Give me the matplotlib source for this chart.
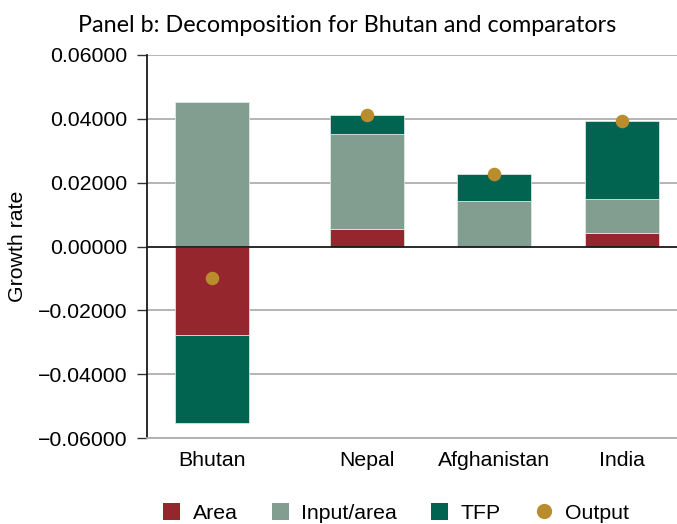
import matplotlib
matplotlib.use("Agg")
import matplotlib.pyplot as plt
import numpy as np
from matplotlib.patches import Patch
from matplotlib.lines import Line2D
from matplotlib.ticker import FuncFormatter

countries = ["Bhutan", "Nepal", "Afghanistan", "India"]
area = [-0.0277, 0.0054, 0.0, 0.0041]
input_area = [0.0452, 0.0300, 0.0142, 0.0107]
tfp = [-0.0277, 0.0059, 0.0086, 0.0244]
output = [-0.0098, 0.0412, 0.0226, 0.0393]
yticks = [-0.06, -0.04, -0.02, 0.0, 0.02, 0.04, 0.06]

series = [("Area", area, "#96262e"),
          ("Input/area", input_area, "#829e90"),
          ("TFP", tfp, "#006450")]
out_color = "#b98c2d"

plt.rcParams['font.family'] = ['Liberation Sans', 'DejaVu Sans']
FS = 15.3

fig = plt.figure(figsize=(6.77, 5.24), dpi=100)
ax = fig.add_axes([147/677, 1-438/524, 1-147/677, (438-55)/524])

x = np.array([0.0, 1.21, 2.21, 3.21])
width = 0.58

pos_base = np.zeros(len(countries))
neg_base = np.zeros(len(countries))
for name, vals, col in series:
    vals = np.array(vals)
    bottoms = np.where(vals >= 0, pos_base, neg_base)
    ax.bar(x, vals, width, bottom=bottoms, color=col, edgecolor='#e8eeea',
           linewidth=0.5, zorder=3)
    pos_base = pos_base + np.where(vals >= 0, vals, 0)
    neg_base = neg_base + np.where(vals < 0, vals, 0)

ax.scatter(x, output, s=95, color=out_color, zorder=5, linewidths=0)

ax.set_xlim(-0.51, 3.64)
ax.set_ylim(-0.06, 0.06)
ax.set_yticks(yticks)
ax.yaxis.set_major_formatter(FuncFormatter(lambda v, p: ("%.5f" % v).replace('-', '\u2212')))
ax.set_xticks(x)
ax.set_xticklabels(countries)

for t in yticks:
    if t == 0:
        ax.axhline(t, color='#1a1a1a', lw=1.3, zorder=4)
    else:
        ax.axhline(t, color='#a8a8a8', lw=1.2, zorder=1)

for s in ['top', 'right']:
    ax.spines[s].set_visible(False)
ax.spines['left'].set_color('#1a1a1a')
ax.spines['left'].set_linewidth(1.3)
ax.spines['bottom'].set_color('#b0b0b0')
ax.spines['bottom'].set_linewidth(1.3)

ax.tick_params(axis='y', length=7, width=1, color='#333333', pad=7, labelsize=FS)
ax.tick_params(axis='x', length=0, pad=9, labelsize=FS)

ax.set_ylabel("Growth rate", fontsize=FS)
ax.yaxis.set_label_coords(-0.226, 0.5)

fig.text(347/677, 1-25/524, "Panel b: Decomposition for Bhutan and comparators",
         ha='center', va='center', fontsize=16.8, family=['Lato', 'DejaVu Sans'])

handles = [Patch(facecolor=c, edgecolor='none', label=n) for n, _, c in series]
handles.append(Line2D([0], [0], marker='o', color='none', markerfacecolor=out_color,
                      markeredgecolor='none', markersize=11, label='Output'))
fig.legend(handles=handles, loc='center', bbox_to_anchor=(396/677, 1-513/524),
           ncol=4, frameon=False, fontsize=FS, handlelength=0.8, handleheight=0.8,
           handletextpad=0.6, columnspacing=1.6)

fig.savefig("out.png", dpi=100)
